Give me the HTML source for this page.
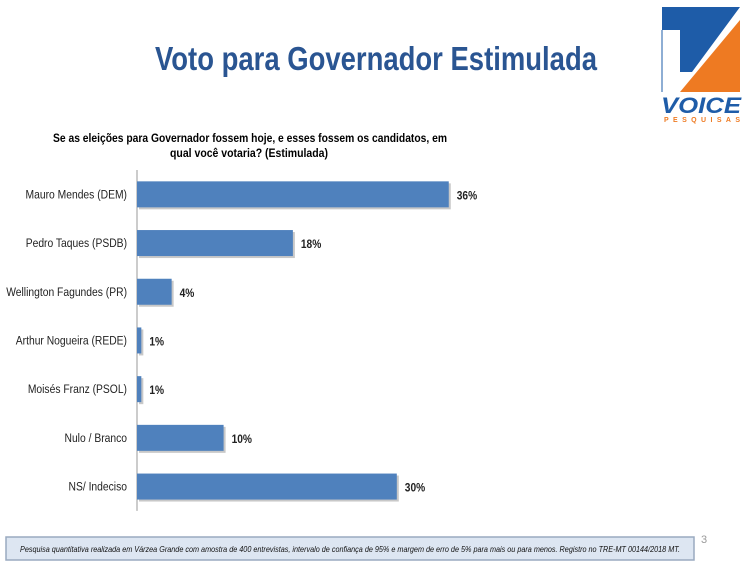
<!DOCTYPE html>
<html><head><meta charset="utf-8"><style>
body{margin:0;background:#fff}
svg text{font-family:"Liberation Sans",Arial,sans-serif}
</style></head><body>
<svg width="750" height="563" viewBox="0 0 750 563">
<text x="376" y="70" text-anchor="middle" font-size="33" font-weight="bold" fill="#2a5592" textLength="442" lengthAdjust="spacingAndGlyphs">Voto para Governador Estimulada</text>
<g>
<polygon points="662,7 740,7 692,72 680,72 680,30 662,30" fill="#1e5ca8"/>
<polygon points="740,20 740,92 680,92" fill="#ee7a22"/>
<line x1="662" y1="30" x2="662" y2="92" stroke="#1e5ca8" stroke-width="1"/>
<text x="701" y="113" text-anchor="middle" font-size="22" font-weight="bold" font-style="italic" fill="#1e5ca8" textLength="80" lengthAdjust="spacingAndGlyphs">VOICE</text>
<text x="702" y="122" text-anchor="middle" font-size="7" font-weight="bold" fill="#ee7a22" textLength="76" lengthAdjust="spacing">PESQUISAS</text>
</g>
<text x="250" y="142" text-anchor="middle" font-size="12" font-weight="bold" fill="#000" textLength="394" lengthAdjust="spacingAndGlyphs">Se as eleições para Governador fossem hoje, e esses fossem os candidatos, em</text>
<text x="249" y="157" text-anchor="middle" font-size="12" font-weight="bold" fill="#000" textLength="158" lengthAdjust="spacingAndGlyphs">qual você votaria? (Estimulada)</text>
<g id="chart"></g>
<text x="704" y="543" text-anchor="middle" font-size="11" fill="#999">3</text>
<rect x="6" y="537" width="688" height="23" fill="#dde6f2" stroke="#9aaac0" stroke-width="1.5"/>
<text x="350" y="552" text-anchor="middle" font-size="8" font-style="italic" fill="#111" textLength="660" lengthAdjust="spacingAndGlyphs">Pesquisa quantitativa realizada em Várzea Grande com  amostra de 400 entrevistas, intervalo de confiança de 95% e margem de erro de 5% para mais ou para menos. Registro no TRE-MT  00144/2018 MT.</text>
</svg>
<script>
const categories=["Mauro Mendes (DEM)","Pedro Taques (PSDB)","Wellington Fagundes (PR)","Arthur Nogueira (REDE)","Moisés Franz (PSOL)","Nulo / Branco","NS/ Indeciso"];
const values=[36,18,4,0.5,0.5,10,30];
const valueLabels=["36%","18%","4%","1%","1%","10%","30%"];
const NS="http://www.w3.org/2000/svg";
const g=document.getElementById('chart');
const x0=137,scale=8.66,yTop=170,step=48.7,bh=26;
const xs=v=>x0+v*scale;
const yc=i=>yTop+step*(i+0.5);
function mk(t,a){const e=document.createElementNS(NS,t);for(const k in a)e.setAttribute(k,a[k]);g.appendChild(e);return e;}
const ax=mk('line',{x1:x0,y1:yTop,x2:x0,y2:yTop+step*categories.length,stroke:'#999','stroke-width':1});


categories.forEach((c,i)=>{
 const sh=mk('rect',{x:x0+2,y:yc(i)-bh/2+2,width:xs(values[i])-x0,height:bh,fill:'#c8c8c8'});
 
 
 const r=mk('rect',{x:x0,y:yc(i)-bh/2,width:xs(values[i])-x0,height:bh,fill:'#4f81bd'});
 
 
 const lx=x0-10;
 const l=mk('text',{x:0,y:0,'text-anchor':'end','font-size':12,fill:'#222',transform:`translate(${lx},${yc(i)+4}) scale(0.86,1)`});
 l.textContent=c;
 
 
 const vx=xs(values[i])+8;
 const v=mk('text',{x:0,y:0,'font-size':12,'font-weight':'bold',fill:'#222',transform:`translate(${vx},${yc(i)+5}) scale(0.85,1)`});
 v.textContent=valueLabels[i];
 
 
});
</script>
</body></html>
